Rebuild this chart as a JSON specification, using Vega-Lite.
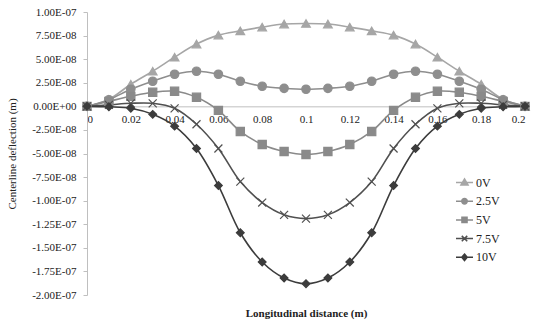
{
  "$schema": "https://vega.github.io/schema/vega-lite/v6.json",
  "autosize": "none",
  "width": 438,
  "height": 283,
  "padding": {"left": 87, "top": 12, "right": 11, "bottom": 28},
  "background": "white",
  "config": {
    "view": {"stroke": null},
    "font": "Liberation Serif",
    "axis": {"labelFont": "Liberation Serif", "titleFont": "Liberation Serif", "labelColor": "#222", "titleColor": "#222", "grid": false}
  },
  "data": {"values": [
    {"x":0,"v":"0V","y":0},{"x":0.01,"v":"0V","y":7.4e-9},{"x":0.02,"v":"0V","y":2.34e-8},{"x":0.03,"v":"0V","y":3.72e-8},{"x":0.04,"v":"0V","y":5.21e-8},{"x":0.05,"v":"0V","y":6.6e-8},{"x":0.06,"v":"0V","y":7.55e-8},{"x":0.07,"v":"0V","y":8.0e-8},{"x":0.08,"v":"0V","y":8.4e-8},{"x":0.09,"v":"0V","y":8.72e-8},{"x":0.1,"v":"0V","y":8.78e-8},{"x":0.11,"v":"0V","y":8.72e-8},{"x":0.12,"v":"0V","y":8.4e-8},{"x":0.13,"v":"0V","y":8.0e-8},{"x":0.14,"v":"0V","y":7.55e-8},{"x":0.15,"v":"0V","y":6.6e-8},{"x":0.16,"v":"0V","y":5.21e-8},{"x":0.17,"v":"0V","y":3.72e-8},{"x":0.18,"v":"0V","y":2.34e-8},{"x":0.19,"v":"0V","y":7.4e-9},{"x":0.2,"v":"0V","y":0},
    {"x":0,"v":"2.5V","y":0},{"x":0.01,"v":"2.5V","y":7e-9},{"x":0.02,"v":"2.5V","y":1.81e-8},{"x":0.03,"v":"2.5V","y":2.66e-8},{"x":0.04,"v":"2.5V","y":3.4e-8},{"x":0.05,"v":"2.5V","y":3.72e-8},{"x":0.06,"v":"2.5V","y":3.4e-8},{"x":0.07,"v":"2.5V","y":2.66e-8},{"x":0.08,"v":"2.5V","y":2.13e-8},{"x":0.09,"v":"2.5V","y":1.91e-8},{"x":0.1,"v":"2.5V","y":1.81e-8},{"x":0.11,"v":"2.5V","y":1.91e-8},{"x":0.12,"v":"2.5V","y":2.13e-8},{"x":0.13,"v":"2.5V","y":2.66e-8},{"x":0.14,"v":"2.5V","y":3.4e-8},{"x":0.15,"v":"2.5V","y":3.72e-8},{"x":0.16,"v":"2.5V","y":3.4e-8},{"x":0.17,"v":"2.5V","y":2.66e-8},{"x":0.18,"v":"2.5V","y":1.81e-8},{"x":0.19,"v":"2.5V","y":7e-9},{"x":0.2,"v":"2.5V","y":0},
    {"x":0,"v":"5V","y":0},{"x":0.01,"v":"5V","y":5.3e-9},{"x":0.02,"v":"5V","y":1.06e-8},{"x":0.03,"v":"5V","y":1.49e-8},{"x":0.04,"v":"5V","y":1.6e-8},{"x":0.05,"v":"5V","y":9.6e-9},{"x":0.06,"v":"5V","y":-4.3e-9},{"x":0.07,"v":"5V","y":-2.66e-8},{"x":0.08,"v":"5V","y":-4.04e-8},{"x":0.09,"v":"5V","y":-4.79e-8},{"x":0.1,"v":"5V","y":-5.1e-8},{"x":0.11,"v":"5V","y":-4.79e-8},{"x":0.12,"v":"5V","y":-4.04e-8},{"x":0.13,"v":"5V","y":-2.66e-8},{"x":0.14,"v":"5V","y":-4.3e-9},{"x":0.15,"v":"5V","y":9.6e-9},{"x":0.16,"v":"5V","y":1.6e-8},{"x":0.17,"v":"5V","y":1.49e-8},{"x":0.18,"v":"5V","y":1.06e-8},{"x":0.19,"v":"5V","y":5.3e-9},{"x":0.2,"v":"5V","y":0},
    {"x":0,"v":"7.5V","y":0},{"x":0.01,"v":"7.5V","y":1.5e-9},{"x":0.02,"v":"7.5V","y":3.2e-9},{"x":0.03,"v":"7.5V","y":3.2e-9},{"x":0.04,"v":"7.5V","y":-2.1e-9},{"x":0.05,"v":"7.5V","y":-1.9e-8},{"x":0.06,"v":"7.5V","y":-4.47e-8},{"x":0.07,"v":"7.5V","y":-7.98e-8},{"x":0.08,"v":"7.5V","y":-1.02e-7},{"x":0.09,"v":"7.5V","y":-1.15e-7},{"x":0.1,"v":"7.5V","y":-1.19e-7},{"x":0.11,"v":"7.5V","y":-1.15e-7},{"x":0.12,"v":"7.5V","y":-1.02e-7},{"x":0.13,"v":"7.5V","y":-7.98e-8},{"x":0.14,"v":"7.5V","y":-4.47e-8},{"x":0.15,"v":"7.5V","y":-1.9e-8},{"x":0.16,"v":"7.5V","y":-2.1e-9},{"x":0.17,"v":"7.5V","y":3.2e-9},{"x":0.18,"v":"7.5V","y":3.2e-9},{"x":0.19,"v":"7.5V","y":1.5e-9},{"x":0.2,"v":"7.5V","y":0},
    {"x":0,"v":"10V","y":0},{"x":0.01,"v":"10V","y":-5e-10},{"x":0.02,"v":"10V","y":-2e-9},{"x":0.03,"v":"10V","y":-8.5e-9},{"x":0.04,"v":"10V","y":-2.1e-8},{"x":0.05,"v":"10V","y":-4.47e-8},{"x":0.06,"v":"10V","y":-8.4e-8},{"x":0.07,"v":"10V","y":-1.34e-7},{"x":0.08,"v":"10V","y":-1.65e-7},{"x":0.09,"v":"10V","y":-1.82e-7},{"x":0.1,"v":"10V","y":-1.88e-7},{"x":0.11,"v":"10V","y":-1.82e-7},{"x":0.12,"v":"10V","y":-1.65e-7},{"x":0.13,"v":"10V","y":-1.34e-7},{"x":0.14,"v":"10V","y":-8.4e-8},{"x":0.15,"v":"10V","y":-4.47e-8},{"x":0.16,"v":"10V","y":-2.1e-8},{"x":0.17,"v":"10V","y":-8.5e-9},{"x":0.18,"v":"10V","y":-2e-9},{"x":0.19,"v":"10V","y":-5e-10},{"x":0.2,"v":"10V","y":0}
  ]},
  "encoding": {
    "x": {
      "field": "x", "type": "quantitative",
      "scale": {"domain": [0, 0.2], "nice": false, "zero": false},
      "axis": {
        "title": "Longitudinal distance (m)",
        "titleFontWeight": "bold", "titleFontSize": 11,
        "orient": "bottom", "offset": -188.67,
        "values": [0, 0.02, 0.04, 0.06, 0.08, 0.1, 0.12, 0.14, 0.16, 0.18, 0.2],
        "labelExpr": "'' + datum.value",
        "labelFontSize": 11, "labelPadding": 7, "labelOverlap": false,
        "ticks": false, "domainColor": "#bfbfbf",
        "titlePadding": 183
      }
    },
    "y": {
      "field": "y", "type": "quantitative",
      "scale": {"domain": [-2e-7, 1e-7], "nice": false, "zero": false},
      "axis": {
        "title": "Centerline deflection (m)",
        "titleFontWeight": "normal", "titleFontSize": 11,
        "values": [1e-7, 7.5e-8, 5e-8, 2.5e-8, 0, -2.5e-8, -5e-8, -7.5e-8, -1e-7, -1.25e-7, -1.5e-7, -1.75e-7, -2e-7],
        "labelExpr": "datum.value == 0 ? '0.00E+00' : replace(replace(replace(format(datum.value, '.2e'), '\u2212', '-'), 'e-', 'E-0'), 'e+', 'E+0')",
        "labelFontSize": 11, "labelPadding": 7, "tickSize": 4,
        "tickColor": "#bfbfbf", "domainColor": "#bfbfbf",
        "titlePadding": 14
      }
    }
  },
  "layer": [
    {
      "transform": [{"filter": "false"}],
      "mark": {"type": "point", "filled": false, "opacity": 1, "strokeWidth": 1.5, "size": 289},
      "encoding": {
        "color": {
          "field": "v", "type": "nominal",
          "scale": {"domain": ["0V", "2.5V", "5V", "7.5V", "10V"], "range": ["#a6a6a6", "#8e8e8e", "#8a8a8a", "#505050", "#3c3c3c"]},
          "legend": {
            "title": null, "orient": "none", "legendX": 368, "legendY": 161,
            "labelFont": "Liberation Serif", "labelFontSize": 12, "labelColor": "#222",
            "symbolSize": 289, "labelOffset": 2, "rowPadding": 2.7, "symbolStrokeWidth": 1.5
          }
        },
        "shape": {
          "field": "v", "type": "nominal",
          "scale": {"domain": ["0V", "2.5V", "5V", "7.5V", "10V"], "range": ["M-1,0H1M0,-0.42L0.42,0.3H-0.42Z", "M-1,0H1M-0.32,0A0.32,0.32 0 1,0 0.32,0A0.32,0.32 0 1,0 -0.32,0Z", "M-1,0H1M-0.3,-0.3H0.3V0.3H-0.3Z", "M-1,0H1M-0.32,-0.32L0.32,0.32M0.32,-0.32L-0.32,0.32", "M-1,0H1M0,-0.38L0.32,0L0,0.38L-0.32,0Z"]},
          "legend": {
            "title": null, "orient": "none", "legendX": 368, "legendY": 161,
            "labelFont": "Liberation Serif", "labelFontSize": 12, "labelColor": "#222",
            "symbolSize": 289, "labelOffset": 2, "rowPadding": 2.7, "symbolStrokeWidth": 1.5
          }
        },
        "fill": {
          "field": "v", "type": "nominal",
          "scale": {"domain": ["0V", "2.5V", "5V", "7.5V", "10V"], "range": ["#a6a6a6", "#8e8e8e", "#8a8a8a", "#505050", "#3c3c3c"]},
          "legend": {
            "title": null, "orient": "none", "legendX": 368, "legendY": 161,
            "labelFont": "Liberation Serif", "labelFontSize": 12, "labelColor": "#222",
            "symbolSize": 289, "labelOffset": 2, "rowPadding": 2.7, "symbolStrokeWidth": 1.5
          }
        }
      }
    },
    {
      "mark": {"type": "line", "interpolate": "catmull-rom", "strokeWidth": 1.6},
      "encoding": {
        "color": {
          "field": "v", "type": "nominal",
          "scale": {"domain": ["0V", "2.5V", "5V", "7.5V", "10V"], "range": ["#a6a6a6", "#8e8e8e", "#8a8a8a", "#505050", "#3c3c3c"]},
          "legend": null
        }
      }
    },
    {
      "mark": {"type": "point", "filled": false, "opacity": 1, "strokeWidth": 1.2},
      "encoding": {
        "color": {
          "field": "v", "type": "nominal",
          "scale": {"domain": ["0V", "2.5V", "5V", "7.5V", "10V"], "range": ["#a6a6a6", "#8e8e8e", "#8a8a8a", "#505050", "#3c3c3c"]},
          "legend": null
        },
        "shape": {
          "field": "v", "type": "nominal",
          "scale": {"domain": ["0V", "2.5V", "5V", "7.5V", "10V"], "range": ["triangle-up", "circle", "square", "M-1,-1L1,1M1,-1L-1,1", "diamond"]},
          "legend": null
        },
        "fill": {
          "field": "v", "type": "nominal",
          "scale": {"domain": ["0V", "2.5V", "5V", "7.5V", "10V"], "range": ["#a6a6a6", "#8e8e8e", "#8a8a8a", "#505050", "#3c3c3c"]},
          "legend": null
        },
        "size": {
          "field": "v", "type": "nominal",
          "scale": {"domain": ["0V", "2.5V", "5V", "7.5V", "10V"], "range": [75, 60, 60, 45, 45]},
          "legend": null
        }
      }
    }
  ],
  "resolve": {"scale": {"shape": "independent", "color": "independent", "fill": "independent"}}
}
